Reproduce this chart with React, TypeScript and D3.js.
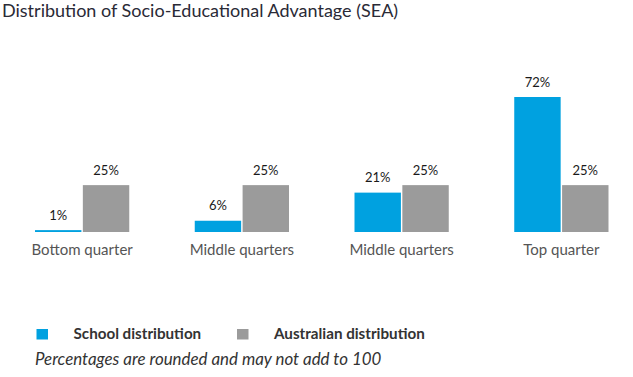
import React from "react";
import * as d3 from "d3";

const categories = ["Bottom quarter", "Middle quarters", "Middle quarters ", "Top quarter"];
const schoolValues = [1, 6, 21, 72];
const australianValues = [25, 25, 25, 25];
const seriesNames = ["School distribution", "Australian distribution"];
const seriesColors = ["#00a1e0", "#9b9b9b"];

const W = 633;
const H = 377;
const FONT = "Lato, 'Open Sans', sans-serif";

export default function App() {
  const x0 = d3.scaleBand<string>().domain(categories).range([35, 608.5]).paddingInner(0.41).paddingOuter(0);
  const x1 = d3.scaleBand<string>().domain(seriesNames).range([0, x0.bandwidth()]).paddingInner(0.03);
  const y = d3.scaleLinear().domain([0, 72]).range([232, 97]);

  const rows = categories.map((c, i) => ({ c, vals: [schoolValues[i], australianValues[i]] }));

  return (
    <svg width={W} height={H} style={{ position: "absolute", left: 0, top: 0, background: "#fff" }} fontFamily={FONT}>
      <text x={2} y={17} fontSize={18} fill="#2a2a36">Distribution of Socio-Educational Advantage (SEA)</text>
      {rows.map((r) => (
        <g key={r.c} transform={`translate(${x0(r.c)},0)`}>
          {r.vals.map((v, j) => {
            const s = seriesNames[j];
            const top = y(v);
            return (
              <g key={s}>
                <rect x={x1(s)} y={top} width={x1.bandwidth()} height={Math.max(y(0) - top, 1.5)} fill={seriesColors[j]} />
                <text x={(x1(s) as number) + x1.bandwidth() / 2} y={Math.min(top, y(0) - 1) - 10.5} textAnchor="middle" fontSize={13} fill="#1a1a1a">
                  {v}%
                </text>
              </g>
            );
          })}
          <text x={x0.bandwidth() / 2} y={255} textAnchor="middle" fontSize={15} fill="#555">{r.c.trim()}</text>
        </g>
      ))}
      {seriesNames.map((s, i) => {
        const lx = [36.5, 237][i];
        return (
          <g key={s}>
            <rect x={lx} y={329} width={11.5} height={10.5} fill={seriesColors[i]} />
            <text x={lx + 37} y={338.5} fontSize={15.2} fontWeight={700} fill="#333">{s}</text>
          </g>
        );
      })}
      <text x={35} y={365} fontSize={16.9} fontStyle="italic" fill="#333">Percentages are rounded and may not add to 100</text>
    </svg>
  );
}
